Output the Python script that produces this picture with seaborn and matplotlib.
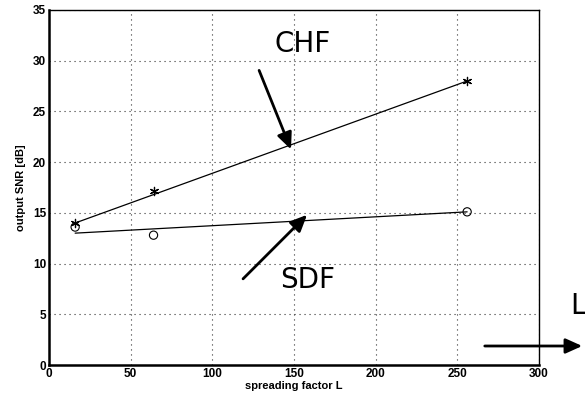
import numpy as np
import pandas as pd
import matplotlib
matplotlib.use("Agg")
import matplotlib.pyplot as plt
import seaborn as sns

# Data
spreading_L = [16, 64, 256]
chf_snr = [14.0, 17.2, 28.0]
sdf_snr = [13.6, 12.8, 15.1]
fit_L = [16, 256]
chf_fit = [14.0, 28.0]
sdf_fit = [13.0, 15.1]
xticks = [0, 50, 100, 150, 200, 250, 300]
yticks = [0, 5, 10, 15, 20, 25, 30, 35]

sns.set_style("white")
plt.rcParams['font.family'] = ['Liberation Sans', 'DejaVu Sans']
plt.rcParams.update({'text.color': 'black', 'axes.labelcolor': 'black',
                     'xtick.color': 'black', 'ytick.color': 'black'})

fig = plt.figure(figsize=(5.85, 3.98), dpi=100)
ax = fig.add_axes([49/585, 33/398, 490/585, 355/398])

pts = pd.DataFrame({"L": spreading_L * 2,
                    "snr": chf_snr + sdf_snr,
                    "scheme": ["CHF"] * 3 + ["SDF"] * 3})
fits = pd.DataFrame({"L": fit_L * 2,
                     "snr": chf_fit + sdf_fit,
                     "scheme": ["CHF"] * 2 + ["SDF"] * 2})

sns.lineplot(data=fits, x="L", y="snr", units="scheme", estimator=None,
             color="black", lw=0.9, ax=ax, legend=False)
sns.scatterplot(data=pts[pts.scheme == "CHF"], x="L", y="snr", marker=(6, 2, 0),
                s=35, color="black", edgecolor="black", linewidth=0.9, ax=ax, legend=False)
sns.scatterplot(data=pts[pts.scheme == "SDF"], x="L", y="snr", marker="o",
                s=35, facecolor="none", edgecolor="black", linewidth=0.8, ax=ax, legend=False)

ax.set_xlim(0, 300)
ax.set_ylim(0, 35)
ax.set_xticks(xticks)
ax.set_yticks(yticks)
ax.set_xticklabels([str(t) for t in xticks], fontsize=8.5, fontweight='heavy')
ax.set_yticklabels([str(t) for t in yticks], fontsize=8.5, fontweight='heavy')
ax.tick_params(axis='both', direction='in', length=3, pad=2, color='black')
ax.grid(True, linestyle=(0, (1, 3.5)), color='#333333', linewidth=0.8)
for sp in ax.spines.values():
    sp.set_color('black')
    sp.set_linewidth(1.0)
ax.spines['left'].set_linewidth(1.8)
ax.spines['bottom'].set_linewidth(1.8)
ax.set_xlabel("spreading factor L", fontsize=8, fontweight='heavy', labelpad=1)
ax.set_ylabel("output SNR [dB]", fontsize=8, fontweight='heavy', labelpad=5)

arrowprops = dict(arrowstyle="-|>,head_length=1.0,head_width=0.45", color="black", lw=2.0)
ax.annotate("", xy=(148.8, 21.0), xytext=(128, 29.3), arrowprops=arrowprops)
ax.annotate("", xy=(159.2, 15.0), xytext=(117.6, 8.3), arrowprops=arrowprops)
ax.text(155.5, 31.6, "CHF", fontsize=20, family='DejaVu Sans', color='black', ha='center', va='center')
ax.text(158.6, 8.4, "SDF", fontsize=20, family='DejaVu Sans', color='black', ha='center', va='center')

ax.annotate("", xy=(585, 52), xytext=(482, 52), xycoords='figure pixels',
            textcoords='figure pixels', arrowprops=arrowprops, annotation_clip=False)
fig.text(578/585, 1 - 306/398, "L", fontsize=20, family='DejaVu Sans', color='black', ha='center', va='center')

fig.savefig("out.png", dpi=100)
